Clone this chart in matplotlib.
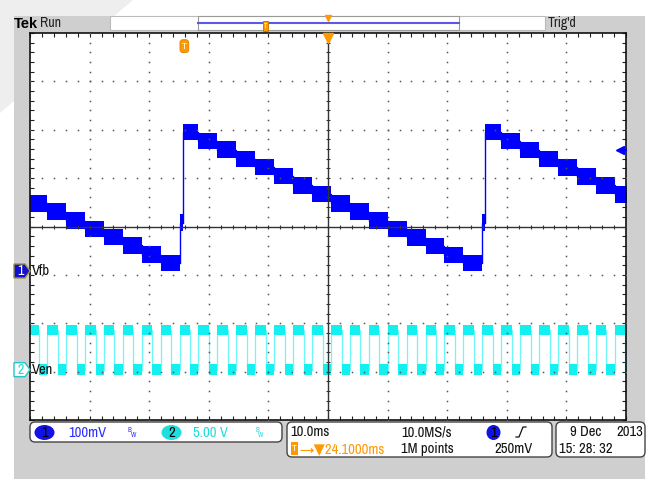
import matplotlib
matplotlib.use('Agg')
import matplotlib.pyplot as plt
from matplotlib import font_manager
from matplotlib.patches import Rectangle, FancyBboxPatch, Ellipse, Polygon
from matplotlib.transforms import blended_transform_factory
import numpy as np

# scope settings
time_per_div = 10.0      # ms/div
center_ms = 24.1         # trigger -> screen centre
ch1_mv_per_div = 100.0   # Vfb
ch2_v_per_div = 5.0      # Ven
ch1_offset_div = -0.92   # Vfb ground marker
ch2_offset_div = -2.96   # Ven ground marker
trig_level_mv = 250.0

# Vfb: start of each plateau (ms from trigger) and its level (mV)
vfb_t = [-26.2, -23.04, -19.87, -16.68, -13.51, -10.34, -7.16, -3.98,
         -0.81, -0.3, 2.37, 5.54, 8.72, 11.90, 15.07, 18.24, 21.43,
         24.60, 27.77, 30.94, 34.13, 37.30, 40.47, 43.64, 46.83,
         50.00, 50.5, 53.17, 56.34, 59.53, 62.70, 65.87, 69.04, 72.23]
vfb_mv = [140, 123, 104, 87, 70, 53, 34, 16,
          100, 287, 269, 251, 232, 215, 196, 177, 159,
          140, 123, 104, 87, 69, 52, 33, 16,
          100, 287, 269, 250, 232, 214, 195, 177, 158]
vfb_band_mv = 17.0       # half height of the noise band

# Ven: rising edges (ms from trigger), pulse width and levels
ven_rise = [-26.2, -23.04, -19.87, -16.68, -13.51, -10.34, -7.16, -3.98,
            -0.81, 2.37, 5.54, 8.72, 11.90, 15.07, 18.24, 21.43,
            24.60, 27.77, 30.94, 34.13, 37.30, 40.47, 43.64, 46.83,
            50.00, 53.17, 56.34, 59.53, 62.70, 65.87, 69.04, 72.23]
ven_width = 1.78
ven_high_v = 4.1
ven_low_v = 0.0
ven_band_v = 0.55

BLUE = '#0000ff'
CYAN = '#14f0f0'
BLUE_TXT = '#2d2dff'
CYAN_TXT = '#20dcdc'
ORANGE = '#ff9900'
BEZEL = '#cfcfcf'

names = {f.name for f in font_manager.fontManager.ttflist}
narrow = 'Liberation Sans'
for cand in ['Liberation Sans Narrow', 'Archivo Narrow', 'Roboto Condensed', 'Liberation Sans']:
    if cand in names:
        narrow = cand
        break
plt.rcParams['font.family'] = [narrow, 'DejaVu Sans']

W, H = 662, 486
fig = plt.figure(figsize=(W / 100, H / 100), dpi=100)
fig.patch.set_facecolor('white')

# background / bezel, pixel coordinates
bg = fig.add_axes([0, 0, 1, 1], zorder=0)
bg.set_xlim(0, W)
bg.set_ylim(H, 0)
bg.axis('off')
bg.add_patch(Polygon([(0, 0), (133, 0), (0, 113)], closed=True, fc='#eeeeee', ec='none'))
bg.add_patch(Rectangle((14, 16), 631, 463, fc=BEZEL, ec='none'))
bg.add_patch(Rectangle((110, 16.5), 435, 13.5, fc='white', ec='#bbbbbb', lw=0.8))
bg.add_patch(Rectangle((198, 16.5), 261, 13.5, fc='white', ec='#999999', lw=0.8))
bg.plot([198, 459], [22.7, 22.7], color='#5a5ae6', lw=1.5)

# graticule
gl, gr, gt, gb = 30, 626, 33, 420
ax = fig.add_axes([gl / W, (H - gb) / H, (gr - gl) / W, (gb - gt) / H], zorder=1)
ax.set_facecolor('white')
x0, x1 = center_ms - 5 * time_per_div, center_ms + 5 * time_per_div
ax.set_xlim(x0, x1)
ax.set_ylim(-4, 4)
for s in ax.spines.values():
    s.set_color('#111111')
    s.set_linewidth(1.2)
ax.set_xticks(center_ms + np.arange(-5, 6) * time_per_div)
ax.set_xticks(center_ms + np.arange(-25, 26) * time_per_div / 5, minor=True)
ax.set_yticks(np.arange(-4, 5))
ax.set_yticks(np.arange(-20, 21) * 0.2, minor=True)
ax.tick_params(which='both', direction='in', length=3, width=0.8, color='#222222',
               top=True, right=True, labelbottom=False, labelleft=False)

xs_minor = center_ms + np.arange(-25, 26) * time_per_div / 5
ys_minor = np.arange(-20, 21) * 0.2
for k in [-4, -3, -2, -1, 1, 2, 3, 4]:
    ax.plot(np.full(ys_minor.size, center_ms + k * time_per_div), ys_minor, ls='none',
            marker='s', ms=1.1, mew=0, color='#555555', zorder=3)
for j in [-3, -2, -1, 1, 2, 3]:
    ax.plot(xs_minor, np.full(xs_minor.size, j), ls='none',
            marker='s', ms=1.1, mew=0, color='#555555', zorder=3)
ax.axvline(center_ms, color='#333333', lw=1, zorder=3)
ax.axhline(0, color='#333333', lw=1, zorder=3)
ax.plot(xs_minor, np.zeros(xs_minor.size), ls='none', marker='|', ms=3.5, mew=0.8,
        color='#333333', zorder=3)
ax.plot(np.full(ys_minor.size, center_ms), ys_minor, ls='none', marker='_', ms=3.5, mew=0.8,
        color='#333333', zorder=3)

# channel 1: Vfb
vt = np.array(vfb_t + [x1 + 1])
vy = np.array(vfb_mv + [vfb_mv[-1]]) / ch1_mv_per_div + ch1_offset_div
band1 = vfb_band_mv / ch1_mv_per_div
ax.fill_between(vt, vy - band1, vy + band1, step='post', color=BLUE, lw=0, zorder=2)
ax.step(vt, vy, where='post', color=BLUE, lw=1, zorder=2)

# channel 2: Ven
te, lv = [], []
for r in ven_rise:
    te += [r, r + ven_width]
    lv += [ven_high_v, ven_low_v]
te.append(x1 + 1)
lv.append(lv[-1])
te = np.array(te)
vy2 = np.array(lv) / ch2_v_per_div + ch2_offset_div
band2 = ven_band_v / ch2_v_per_div
ax.step(te, vy2, where='post', color='#6ff6f6', lw=0.9, zorder=1.9)
ax.fill_between(te, vy2 - band2, vy2 + band2, step='post', color=CYAN, lw=0, zorder=2)

# markers on the graticule
tr_xa = blended_transform_factory(ax.transData, ax.transAxes)
tr_ay = blended_transform_factory(ax.transAxes, ax.transData)
trig_div = trig_level_mv / ch1_mv_per_div + ch1_offset_div
ax.plot([0.99], [trig_div], marker='<', ms=6, color=BLUE, transform=tr_ay, clip_on=False, zorder=4)
ax.plot([0.99, 1.0], [trig_div, trig_div], color=BLUE, lw=1.5, transform=tr_ay, clip_on=False, zorder=4)
ax.plot([center_ms], [0.988], marker='v', ms=7, color=ORANGE, transform=tr_xa, clip_on=False, zorder=4)
ax.text(0, 0.966, 'T', transform=tr_xa, ha='center', va='center', color='white', fontsize=7,
        fontweight='bold', zorder=4,
        bbox=dict(boxstyle='round,pad=0.2,rounding_size=0.3', fc=ORANGE, ec='#e08000', lw=0.6))

# foreground, pixel coordinates
fg = fig.add_axes([0, 0, 1, 1], zorder=3)
fg.set_xlim(0, W)
fg.set_ylim(H, 0)
fg.patch.set_alpha(0)
fg.axis('off')

fg.text(14, 23.5, 'Tek', fontsize=10.5, fontweight='bold', color='black', va='center', ha='left',
        family=['Liberation Sans', 'DejaVu Sans'])
fg.text(40, 23, 'Run', fontsize=10, color='#222222', va='center', ha='left')
fg.text(548, 22.5, "Trig'd", fontsize=10, color='#222222', va='center', ha='left')
fg.add_patch(Rectangle((262.5, 21), 5.5, 10, fc=ORANGE, ec='#c07000', lw=0.6))
fg.text(265.2, 26, 'T', fontsize=5, color='white', ha='center', va='center', fontweight='bold')
fg.plot([328], [18], marker='v', ms=4.5, color=ORANGE)

# channel ground markers
tr_ch = blended_transform_factory(fg.transData, ax.transData)
h = 7 / 48.4
for off, fc, ec, tc, num, name in [(ch1_offset_div, '#1010d0', '#a09040', 'white', '1', 'Vfb'),
                                   (ch2_offset_div, 'white', '#20c8c8', CYAN_TXT, '2', 'Ven')]:
    fg.add_patch(Polygon([(14, off + h), (25, off + h), (30, off), (25, off - h), (14, off - h)],
                         closed=True, fc=fc, ec=ec, lw=1, transform=tr_ch, clip_on=False))
    fg.text(20.5, off, num, fontsize=10, color=tc, ha='center', va='center', transform=tr_ch,
            fontweight='bold')
    fg.text(32, off, name, fontsize=10.5, color='#111111', ha='left', va='center', transform=tr_ch)

# info boxes
for (bx, by, bw, bh) in [(30, 422, 252, 20), (287, 422, 265, 35), (556, 422, 89, 35)]:
    fg.add_patch(FancyBboxPatch((bx, by), bw, bh, boxstyle='round,pad=0,rounding_size=5',
                                fc='white', ec='#444444', lw=1))

fs = 10.5
fg.add_patch(Ellipse((44.5, 432.5), 20, 15, fc='#1212e6', ec='none'))
fg.text(44.5, 433, '1', fontsize=10.5, color='black', ha='center', va='center', fontweight='bold')
fg.text(68, 432.5, '100mV', fontsize=fs, color=BLUE_TXT, ha='left', va='center')
fg.text(128, 429.5, 'B', fontsize=5, color=BLUE_TXT, ha='left', va='center')
fg.text(131, 434.5, 'W', fontsize=5, color=BLUE_TXT, ha='left', va='center')
fg.add_patch(Ellipse((171.5, 432.5), 20, 15, fc='#20dede', ec='none'))
fg.text(171.5, 433, '2', fontsize=10.5, color='black', ha='center', va='center', fontweight='bold')
fg.text(193, 432.5, '5.00 V', fontsize=fs, color=CYAN_TXT, ha='left', va='center')
fg.text(255, 429.5, 'B', fontsize=5, color=CYAN_TXT, ha='left', va='center')
fg.text(258, 434.5, 'W', fontsize=5, color=CYAN_TXT, ha='left', va='center')

fg.text(290, 432, '10.0ms', fontsize=fs, color='#111111', ha='left', va='center')
fg.add_patch(Rectangle((291, 442), 7, 13, fc=ORANGE, ec='none'))
fg.text(294.5, 448.5, 'T', fontsize=7, color='white', ha='center', va='center', fontweight='bold')
fg.text(299, 449, '\u2192\u25bc24.1000ms', fontsize=fs, color=ORANGE, ha='left', va='center')
fg.text(401, 432, '10.0MS/s', fontsize=fs, color='#111111', ha='left', va='center')
fg.text(401, 449, '1M points', fontsize=fs, color='#111111', ha='left', va='center')
fg.add_patch(Ellipse((493.5, 432.5), 14, 15, fc='#1212e6', ec='none'))
fg.text(493.5, 433, '1', fontsize=10.5, color='black', ha='center', va='center', fontweight='bold')
fg.plot([516, 519, 523, 526], [437, 437, 427, 427], color='#111111', lw=0.9)
fg.text(494, 449, '250mV', fontsize=fs, color='#111111', ha='left', va='center')

fg.text(570, 432, '9 Dec', fontsize=fs, color='#111111', ha='left', va='center')
fg.text(616, 432, '2013', fontsize=fs, color='#111111', ha='left', va='center')
fg.text(559, 449, '15: 28: 32', fontsize=fs, color='#111111', ha='left', va='center')

fig.savefig('out.png', dpi=100, facecolor='white')
